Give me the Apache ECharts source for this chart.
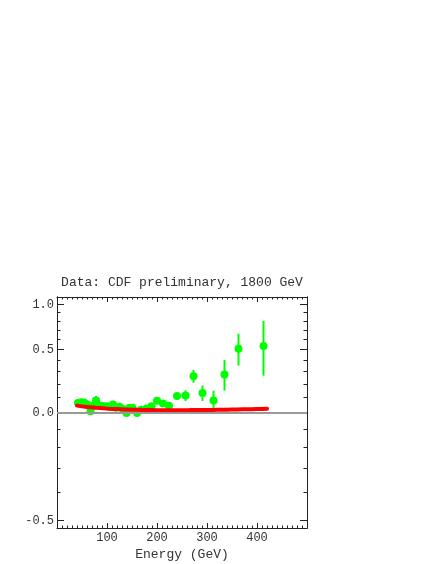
<!DOCTYPE html>
<html>
<head>
<meta charset="utf-8">
<script src="https://cdn.jsdelivr.net/npm/echarts@6/dist/echarts.min.js"></script>
<style>
html,body{margin:0;padding:0;background:#fff;}
#chart{width:436px;height:564px;}
</style>
</head>
<body>
<div id="chart"></div>
<script>
// ---- data ----
const energies = [42, 48, 54, 60, 67, 73, 78, 85, 92, 100, 106, 112, 118, 125, 131, 139, 145, 151, 160, 168, 179, 189, 200, 212, 224, 240, 257, 273, 291, 313, 335, 363, 413];
const values   = [0.062, 0.068, 0.066, 0.055, 0.008, 0.045, 0.080, 0.045, 0.042, 0.040, 0.035, 0.052, 0.030, 0.038, 0.025, -0.004, 0.030, 0.030, -0.004, 0.018, 0.026, 0.040, 0.078, 0.060, 0.044, 0.111, 0.115, 0.263, 0.133, 0.080, 0.276, 0.505, 0.534];
const errors   = [0.012, 0.012, 0.012, 0.012, 0.012, 0.012, 0.032, 0.012, 0.012, 0.012, 0.012, 0.012, 0.012, 0.012, 0.012, 0.012, 0.012, 0.012, 0.012, 0.012, 0.012, 0.012, 0.015, 0.015, 0.015, 0.026, 0.038, 0.052, 0.056, 0.070, 0.125, 0.154, 0.267];

const curveEnergies = [40, 60, 80, 100, 120, 140, 160, 180, 200, 220, 240, 260, 280, 300, 320, 340, 360, 380, 400, 420];
const curveValues   = [0.045, 0.036, 0.030, 0.025, 0.022, 0.019, 0.017, 0.016, 0.015, 0.015, 0.015, 0.015, 0.016, 0.016, 0.017, 0.018, 0.020, 0.021, 0.022, 0.024];

const xTickLabels = [100, 200, 300, 400];
const yMajorTicks = [-0.5, 0, 0.5, 1.0];
const yMinorTicks = [-0.5, -0.4, -0.3, -0.2, -0.1, 0, 0.1, 0.2, 0.3, 0.4, 0.5, 0.6, 0.7, 0.8, 0.9, 1.0];
const yRange = [-0.524, 1.1];
const xRange = [0, 500];

const titleText = 'Data: CDF preliminary, 1800 GeV';
const xName = 'Energy (GeV)';

// y axis is a log(1+y) scale
const T = v => Math.log2(1 + v);
const Tinv = t => Math.pow(2, t) - 1;

const FONT = 'Liberation Mono, DejaVu Sans Mono, monospace';
const AX = '#222';
const TXT = '#333';

const yBase = (pos, ticks, len, labels) => ({
  type: 'value',
  position: pos,
  offset: 0,
  min: T(yRange[0]),
  max: T(yRange[1]),
  splitLine: {show: false},
  axisLine: {show: true, onZero: false, lineStyle: {color: AX, width: 1}},
  axisTick: {show: true, inside: true, length: len, customValues: ticks.map(T), lineStyle: {color: AX, width: 1}},
  axisLabel: labels ? {
    show: true, margin: 3, color: TXT, fontFamily: FONT, fontSize: 12,
    customValues: yMajorTicks.map(T),
    formatter: v => Tinv(v).toFixed(1)
  } : {show: false}
});

const xBase = (pos, labels) => ({
  type: 'value',
  position: pos,
  min: xRange[0], max: xRange[1], interval: 100,
  splitLine: {show: false},
  axisLine: {show: true, onZero: false, lineStyle: {color: AX, width: 1}},
  axisTick: {show: true, inside: true, length: 5, lineStyle: {color: AX, width: 1}},
  minorTick: {show: true, splitNumber: 10, length: 2.5, lineStyle: {color: AX, width: 1}},
  axisLabel: labels ? {show: true, margin: 4, color: TXT, fontFamily: FONT, fontSize: 12, customValues: xTickLabels} : {show: false},
  name: labels ? xName : '',
  nameLocation: 'middle',
  nameGap: 20,
  nameTextStyle: {color: TXT, fontFamily: FONT, fontSize: 13}
});

const chart = echarts.init(document.getElementById('chart'), null, {renderer: 'canvas'});
chart.setOption({
  animation: false,
  backgroundColor: '#fff',
  title: {
    text: titleText,
    left: 182, top: 276, textAlign: 'center',
    padding: 0,
    textStyle: {color: TXT, fontFamily: FONT, fontSize: 13, fontWeight: 'normal'}
  },
  grid: {left: 57, top: 297, width: 250, height: 231, containLabel: false},
  xAxis: [xBase('bottom', true), xBase('top', false)],
  yAxis: [
    yBase('left', yMajorTicks, 7, true),
    yBase('left', yMinorTicks, 3.5, false),
    yBase('right', yMajorTicks, 7, false),
    yBase('right', yMinorTicks, 3.5, false)
  ],
  series: [
    {
      type: 'custom',
      name: 'errors',
      xAxisIndex: 0, yAxisIndex: 0,
      data: energies.map((e, i) => [e, T(values[i] - errors[i]), T(values[i] + errors[i])]),
      renderItem: (params, api) => {
        const lo = api.coord([api.value(0), api.value(1)]);
        const hi = api.coord([api.value(0), api.value(2)]);
        return {type: 'line', shape: {x1: lo[0], y1: lo[1], x2: hi[0], y2: hi[1]},
                style: {stroke: '#00ff00', lineWidth: 2}};
      },
      markLine: {
        silent: true, symbol: 'none', label: {show: false},
        lineStyle: {color: '#999', width: 2, type: 'solid'},
        data: [{yAxis: T(0)}]
      }
    },
    {
      type: 'scatter',
      name: 'data',
      xAxisIndex: 0, yAxisIndex: 0,
      symbol: 'circle', symbolSize: 8,
      itemStyle: {color: '#00ff00', opacity: 1},
      data: energies.map((e, i) => [e, T(values[i])])
    },
    {
      type: 'line',
      name: 'fit',
      xAxisIndex: 0, yAxisIndex: 0,
      smooth: true, showSymbol: false, symbol: 'none',
      lineStyle: {color: '#ff0000', width: 4, cap: 'round'},
      data: curveEnergies.map((e, i) => [e, T(curveValues[i])])
    }
  ]
});
</script>
</body>
</html>
